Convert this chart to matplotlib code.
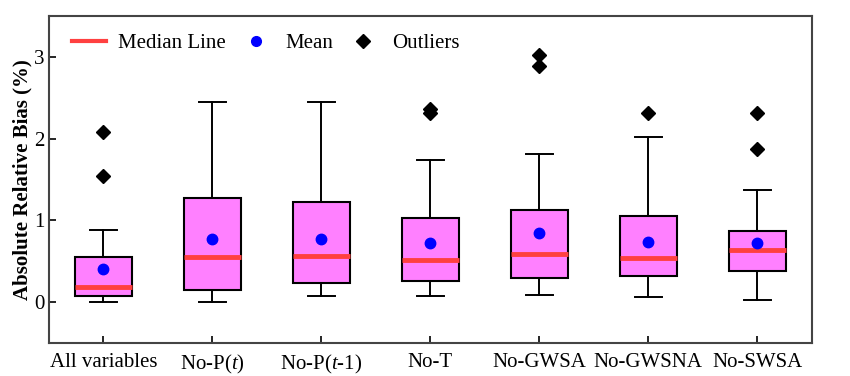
import matplotlib
matplotlib.use("Agg")
import matplotlib.pyplot as plt
from matplotlib.lines import Line2D

plt.rcParams['font.family'] = ['Liberation Serif', 'DejaVu Serif']
plt.rcParams['mathtext.fontset'] = 'custom'
plt.rcParams['mathtext.rm'] = 'Liberation Serif'
plt.rcParams['mathtext.it'] = 'Liberation Serif:italic'

categories = ["All variables", "No-P($\\mathit{t}$)", "No-P($\\mathit{t}$-1)", "No-T",
              "No-GWSA", "No-GWSNA", "No-SWSA"]
whislo = [0.00, 0.00, 0.08, 0.08, 0.09, 0.065, 0.025]
q1 = [0.07, 0.15, 0.23, 0.26, 0.30, 0.315, 0.38]
med = [0.19, 0.555, 0.56, 0.515, 0.59, 0.535, 0.633]
q3 = [0.555, 1.27, 1.23, 1.03, 1.127, 1.053, 0.873]
whishi = [0.88, 2.445, 2.445, 1.74, 1.81, 2.016, 1.37]
means = [0.41, 0.776, 0.77, 0.727, 0.84, 0.735, 0.722]
outliers = [[2.08, 1.54], [], [], [2.31, 2.36], [3.02, 2.89], [2.32], [2.32, 1.87]]

stats = []
for i, c in enumerate(categories):
    stats.append(dict(label=c, whislo=whislo[i], q1=q1[i], med=med[i], q3=q3[i],
                      whishi=whishi[i], mean=means[i], fliers=outliers[i]))

fig = plt.figure(figsize=(8.5, 3.76), dpi=100)
ax = fig.add_axes([0.0576, 0.0878, 0.8974, 0.8694])

ax.bxp(stats, positions=range(1, 8), widths=0.52, patch_artist=True, showmeans=True,
       boxprops=dict(facecolor='#FF80FF', edgecolor='black', linewidth=1.5),
       medianprops=dict(color='#FF4040', linewidth=3.5),
       whiskerprops=dict(color='black', linewidth=1.4),
       capprops=dict(color='black', linewidth=1.4),
       capwidths=0.25,
       meanprops=dict(marker='o', markerfacecolor='blue', markeredgecolor='blue', markersize=7.5),
       flierprops=dict(marker='D', markerfacecolor='black', markeredgecolor='black', markersize=7.5))

ax.set_xlim(0.5, 7.5)
ax.set_ylim(-0.5, 3.5)
ax.set_yticks([0, 1, 2, 3])
ax.set_yticklabels(['0', '1', '2', '3'])
ax.set_ylabel('Absolute Relative Bias (%)', fontsize=15, fontweight='bold', labelpad=1)
ax.tick_params(axis='both', direction='in', labelsize=15, length=5, width=1.2,
               top=False, right=False)
ax.tick_params(axis='x', pad=7)
ax.tick_params(axis='y', pad=3)
for s in ax.spines.values():
    s.set_color('#444444')
    s.set_linewidth(1.5)

handles = [Line2D([0], [0], color='#FF4040', linewidth=3),
           Line2D([0], [0], marker='o', color='none', markerfacecolor='blue',
                  markeredgecolor='blue', markersize=7),
           Line2D([0], [0], marker='D', color='none', markerfacecolor='black',
                  markeredgecolor='black', markersize=7)]
ax.legend(handles, ['Median Line', 'Mean', 'Outliers'], loc='upper left', ncol=3,
          frameon=False, fontsize=15, bbox_to_anchor=(0.006, 1.004), handlelength=1.6,
          columnspacing=0.65, handletextpad=0.6)

fig.savefig('out.png', dpi=100)
